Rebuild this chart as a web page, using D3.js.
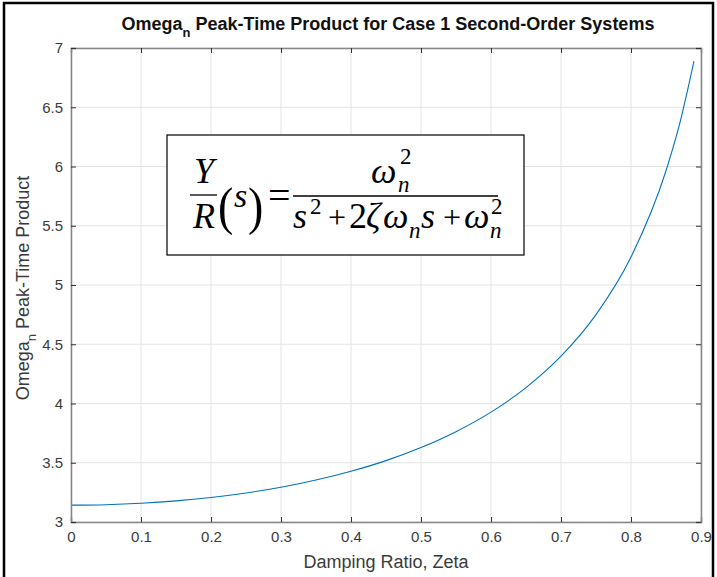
<!DOCTYPE html>
<html><head><meta charset="utf-8">
<script src="https://cdn.jsdelivr.net/npm/d3@7"></script>
<style>body{margin:0;background:#fff}svg{display:block}</style>
</head><body>
<script>
const zeta = [0,0.05,0.1,0.15,0.2,0.25,0.3,0.35,0.4,0.45,0.5,0.55,0.6,0.65,0.7,0.75,0.8,0.85,0.87,0.89];
const product = [3.142,3.146,3.158,3.178,3.207,3.245,3.293,3.354,3.428,3.518,3.628,3.762,3.927,4.134,4.399,4.750,5.236,5.964,6.372,6.890];
const xTicks = [0,0.1,0.2,0.3,0.4,0.5,0.6,0.7,0.8,0.9];
const yTicks = [3,3.5,4,4.5,5,5.5,6,6.5,7];

const W=717,H=577;
const svg=d3.select("body").append("svg").attr("width",W).attr("height",H);
svg.append("rect").attr("x",0).attr("y",0).attr("width",W).attr("height",H).attr("fill","#fff");
// outer frame
svg.append("rect").attr("x",4).attr("y",3).attr("width",709).attr("height",H+10)
  .attr("fill","none").attr("stroke","#000").attr("stroke-width",2.5);

const L=71,R=701,T=48,B=522;
const x=d3.scaleLinear().domain([0,0.9]).range([L,R]);
const y=d3.scaleLinear().domain([3,7]).range([B,T]);
const font="Liberation Sans, Arial, Helvetica, sans-serif";
const g=svg.append("g");
// grid
g.selectAll(".gx").data(xTicks).join("line").attr("x1",d=>x(d)).attr("x2",d=>x(d)).attr("y1",T).attr("y2",B)
  .attr("stroke","#e3e3e3").attr("stroke-width",1);
g.selectAll(".gy").data(yTicks).join("line").attr("y1",d=>y(d)).attr("y2",d=>y(d)).attr("x1",L).attr("x2",R)
  .attr("stroke","#e3e3e3").attr("stroke-width",1);

// curve
const line=d3.line().x((d,i)=>x(zeta[i])).y(d=>y(d)).curve(d3.curveMonotoneX);
g.append("path").datum(product).attr("d",line).attr("fill","none").attr("stroke","#0072BD").attr("stroke-width",1.1);

// axes
const axCol="#858585";
const bx=g.append("g").attr("transform",`translate(0,${B})`).call(d3.axisBottom(x).tickValues(xTicks).tickSize(-5).tickPadding(9).tickFormat(d3.format("~g")));
const tx=g.append("g").attr("transform",`translate(0,${T})`).call(d3.axisTop(x).tickValues(xTicks).tickSize(-5).tickFormat(""));
const ly=g.append("g").attr("transform",`translate(${L},0)`).call(d3.axisLeft(y).tickValues(yTicks).tickSize(-5).tickPadding(8).tickFormat(d3.format("~g")));
const ry=g.append("g").attr("transform",`translate(${R},0)`).call(d3.axisRight(y).tickValues(yTicks).tickSize(-5).tickFormat(""));
[bx,tx,ly,ry].forEach(a=>{
  a.select(".domain").attr("stroke",axCol).attr("stroke-width",1.5);
  a.selectAll(".tick line").attr("stroke","#333").attr("stroke-width",1);
  a.selectAll("text").attr("fill","#3a3a3a").attr("font-family",font).attr("font-size",15);
});

// title
const title=svg.append("text").attr("x",388).attr("y",30).attr("text-anchor","middle")
  .attr("font-family",font).attr("font-size",18).attr("font-weight","bold").attr("fill","#111");
title.append("tspan").text("Omega");
title.append("tspan").attr("dy",7).attr("font-size",13).text("n");
title.append("tspan").attr("dy",-7).text(" Peak-Time Product for Case 1 Second-Order Systems");

// x label
svg.append("text").attr("x",386).attr("y",568).attr("text-anchor","middle").attr("font-family",font)
  .attr("font-size",18).attr("fill","#3a3a3a").text("Damping Ratio, Zeta");
// y label
const yl=svg.append("text").attr("transform","translate(29,288) rotate(-90)").attr("text-anchor","middle")
  .attr("font-family",font).attr("font-size",18).attr("fill","#3a3a3a");
yl.append("tspan").text("Omega");
yl.append("tspan").attr("dy",7).attr("font-size",13).text("n");
yl.append("tspan").attr("dy",-7).text(" Peak-Time Product");

// equation box
svg.append("rect").attr("x",167).attr("y",135).attr("width",357).attr("height",120)
  .attr("fill","#fff").attr("stroke","#000").attr("stroke-width",1.2);
const serif="Liberation Serif, Times New Roman, serif";
const eq=svg.append("g").attr("font-family",serif).attr("fill","#000");
const it=(t,xx,yy,fs,anchor)=>eq.append("text").attr("x",xx).attr("y",yy).attr("font-size",fs)
  .attr("font-style","italic").attr("text-anchor",anchor||"start").text(t);
const rm=(t,xx,yy,fs,anchor)=>eq.append("text").attr("x",xx).attr("y",yy).attr("font-size",fs)
  .attr("text-anchor",anchor||"start").text(t);
// Y/R
it("Y",204,183,36,"middle");
eq.append("line").attr("x1",190).attr("x2",217).attr("y1",195).attr("y2",195).attr("stroke","#000").attr("stroke-width",1.3);
it("R",204,228,36,"middle");
// (s)
eq.append("text").attr("x",218).attr("y",217).attr("font-size",46)
  .attr("transform","translate(0,-30) scale(1,1.15)").attr("dy",4).text("(");
it("s",234,207,34);
eq.append("text").attr("x",248).attr("y",217).attr("font-size",46)
  .attr("transform","translate(0,-30) scale(1,1.15)").attr("dy",4).text(")");
rm("=",268,209,40);
// big fraction
eq.append("line").attr("x1",293).attr("x2",498).attr("y1",196).attr("y2",196).attr("stroke","#000").attr("stroke-width",1.3);
// numerator
it("ω",371,183,36);
it("n",398,192,23);
rm("2",400,164,23);
// denominator
it("s",293,228,36);
rm("2",310,214,23);
rm("+",328,228,32);
rm("2",349,228,36);
it("ζ",366,228,36);
it("ω",383,228,36);
it("n",409,238,23);
it("s",421,228,36);
rm("+",443,228,32);
it("ω",464,228,36);
it("n",490,238,23);
rm("2",491,214,23);
</script>
</body></html>
